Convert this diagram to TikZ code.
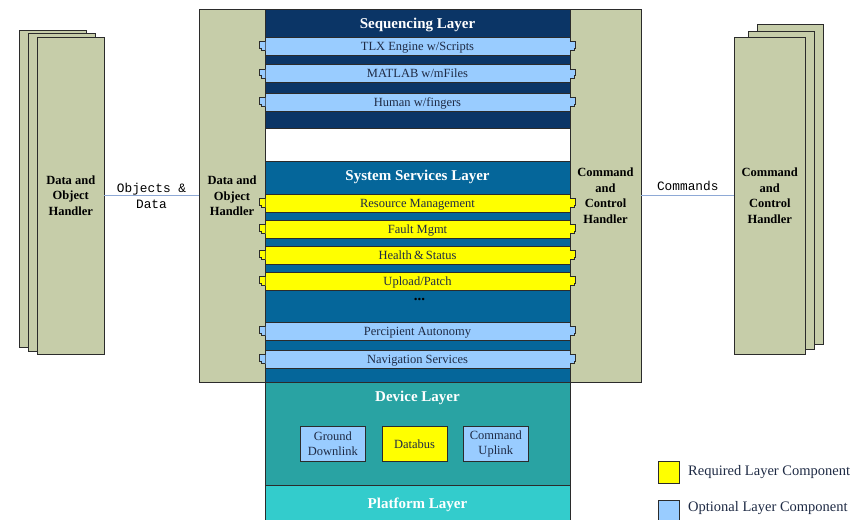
\documentclass[tikz,border=0pt]{standalone}
\usepackage{fontspec}
\setmainfont{Liberation Serif}
\setmonofont{Liberation Mono}
\definecolor{seqc}{HTML}{0B3566}
\definecolor{sysc}{HTML}{05669A}
\definecolor{devc}{HTML}{29A3A3}
\definecolor{platc}{HTML}{33CCCC}
\definecolor{khaki}{HTML}{C6CDA9}
\definecolor{optc}{HTML}{99CCFF}
\definecolor{reqc}{HTML}{FFFF00}
\definecolor{edgec}{HTML}{2B2B2B}
\definecolor{txtc}{HTML}{1E2A44}
\definecolor{connc}{HTML}{8EA9D6}
\tikzset{
  panel/.style={draw=edgec, line width=0.8pt, fill=khaki, inner sep=0pt},
  handler/.style={font=\bfseries\fontsize{12.5}{15.5}\selectfont, align=center, text=black},
  layer/.style={draw=edgec, line width=0.8pt, inner sep=0pt},
  title/.style={font=\bfseries\fontsize{15}{18}\selectfont, text=white, inner sep=0pt, anchor=base},
  comp/.style={draw=edgec, line width=0.7pt, minimum width=305, minimum height=18, inner sep=0pt,
               text height=8.3pt, text depth=0pt,
               font=\fontsize{12.5}{14}\selectfont, text=txtc},
  tabline/.style={draw=edgec, line width=0.7pt},
  devbox/.style={draw=edgec, line width=0.8pt, inner sep=0pt, font=\fontsize{12.5}{15}\selectfont,
                 text=txtc, align=center},
  legbox/.style={draw=edgec, line width=0.8pt, inner sep=0pt},
  legtext/.style={font=\fontsize{14.5}{17}\selectfont, text=txtc, anchor=west, inner sep=0pt},
  connline/.style={draw=connc, line width=1pt},
  mono/.style={font=\ttfamily\fontsize{12.8}{16}\selectfont, text=black, align=center}
}
\newcommand\boxat[7]{\node[#6, minimum width={(#4-#2)*1pt}, minimum height={(#5-#3)*1pt}] (#1) at ({(#2+#4)/2},{(#3+#5)/2}) {#7};}
\newcommand\compbar[4]{%
  \node[comp, fill=#3] (#1) at (417.5,#2) {#4};
  \filldraw[tabline, fill=#3] (#1.west) ++(0.6,-4.5) -- ++(-5.6,0) -- ++(0,6.5) -- ++(1.2,0) -- ++(0,2.5) -- ++(4.4,0);
  \filldraw[tabline, fill=#3] (#1.east) ++(-0.6,-4.5) -- ++(5.6,0) -- ++(0,6.5) -- ++(-1.2,0) -- ++(0,2.5) -- ++(-4.4,0);
}
\begin{document}
\begin{tikzpicture}[x=1pt,y=-1pt]
\useasboundingbox (0,0) rectangle (866,519);
% left stack
\boxat{ls1}{19}{30}{86}{347}{panel}{}
\boxat{ls2}{28.5}{33.5}{95}{351}{panel}{}
\boxat{ls3}{37.5}{37}{104}{354}{panel,handler}{Data and\\Object\\Handler}
% right stack
\boxat{rs1}{757}{24.5}{823}{344}{panel}{}
\boxat{rs2}{748}{31}{814}{349}{panel}{}
\boxat{rs3}{734.5}{37.5}{805}{354}{panel,handler}{Command\\and\\Control\\Handler}
% central handlers
\boxat{dh}{199}{9.5}{265}{382}{panel,handler}{Data and\\Object\\Handler}
\boxat{ch}{570}{9.5}{641}{382}{panel,handler}{Command\\and\\Control\\Handler}
% layers
\boxat{seq}{265}{9.5}{570}{128}{layer,fill=seqc}{}
\node[title] (seqt) at (417.5,28.5) {Sequencing Layer};
\boxat{sys}{265}{161}{570}{382}{layer,fill=sysc}{}
\node[title] (syst) at (417.5,180.5) {System Services Layer};
\boxat{dev}{265}{382}{570}{485}{layer,fill=devc}{}
\node[title] (devt) at (417.5,401.7) {Device Layer};
\boxat{plat}{265}{485}{570}{525}{layer,fill=platc}{}
\node[title] (platt) at (417.5,508.3) {Platform Layer};
% sequencing components
\compbar{tlx}{46.2}{optc}{TLX Engine w/Scripts}
\compbar{matlab}{73.8}{optc}{MATLAB w/mFiles}
\compbar{human}{102.2}{optc}{Human w/fingers}
% system services components
\compbar{res}{203.2}{reqc}{Resource Management}
\compbar{fault}{229.3}{reqc}{Fault Mgmt}
\compbar{health}{255.3}{reqc}{Health\,\&\,Status}
\compbar{upload}{281.3}{reqc}{Upload/Patch}
\node[font=\bfseries\fontsize{15}{16}\selectfont, text=black, inner sep=0pt, anchor=base] (dots) at (419.5,300) {...};
\compbar{perc}{331.2}{optc}{Percipient Autonomy}
\compbar{nav}{359.3}{optc}{Navigation Services}
% device components
\boxat{gd}{300}{426.7}{365.7}{461.3}{devbox,fill=optc}{Ground\\Downlink}
\boxat{db}{382}{426.7}{447}{461.3}{devbox,fill=reqc}{Databus}
\boxat{cu}{463}{426.7}{528.7}{461.3}{devbox,fill=optc}{Command\\Uplink}
% connectors
\draw[connline] (ls3.east) -- (ls3.east -| dh.west) node[midway, mono] (odl) {Objects \&\\Data};
\draw[connline] (ch.east |- rs3.west) -- (rs3.west) node[midway, above=1pt, mono] (cml) {Commands};
% legend
\boxat{lreq}{658.5}{461.5}{679.5}{483.5}{legbox,fill=reqc}{}
\node[legtext] (lreqt) at (688,472) {Required Layer Component};
\boxat{lopt}{658.5}{500}{679.5}{522}{legbox,fill=optc}{}
\node[legtext] (loptt) at (688,508.5) {Optional Layer Component};
\end{tikzpicture}
\end{document}
